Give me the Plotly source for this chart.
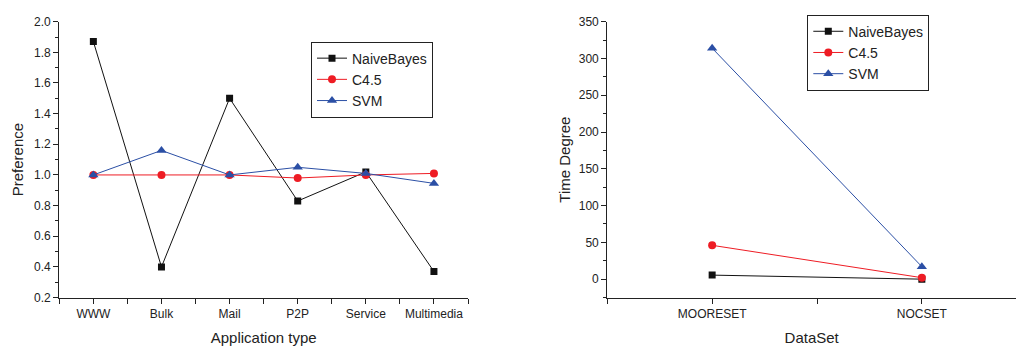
import plotly.graph_objects as go

# ---- data ----
app_types = ["WWW", "Bulk", "Mail", "P2P", "Service", "Multimedia"]
pref_nb = [1.87, 0.40, 1.50, 0.83, 1.02, 0.37]
pref_c45 = [1.00, 1.00, 1.00, 0.98, 1.00, 1.01]
pref_svm = [1.00, 1.16, 1.00, 1.05, 1.01, 0.945]

datasets = ["MOORESET", "NOCSET"]
time_nb = [5.5, 0.0]
time_c45 = [46.0, 2.0]
time_svm = [314.0, 17.0]

series_names = ["NaiveBayes", "C4.5", "SVM"]
colors = ["#111111", "#EE1C24", "#2B4FA5"]
symbols = ["square", "circle", "triangle-up"]
sizes = [7, 8, 9]

FONT = "Arial, Liberation Sans, sans-serif"

fig = go.Figure()

xi_left = list(range(len(app_types)))
xi_right = list(range(len(datasets)))

for name, ys, c, s, sz in zip(series_names, [pref_nb, pref_c45, pref_svm], colors, symbols, sizes):
    fig.add_trace(go.Scatter(x=xi_left, y=ys, mode="lines+markers", name=name,
                             line=dict(color=c, width=1), marker=dict(symbol=s, size=sz, color=c),
                             xaxis="x", yaxis="y", legend="legend", showlegend=True))
for name, ys, c, s, sz in zip(series_names, [time_nb, time_c45, time_svm], colors, symbols, sizes):
    fig.add_trace(go.Scatter(x=xi_right, y=ys, mode="lines+markers", name=name,
                             line=dict(color=c, width=1), marker=dict(symbol=s, size=sz, color=c),
                             xaxis="x2", yaxis="y2", legend="legend2", showlegend=True))

H = 349.0
W = 1016.0
ydom = [(H - 302.7) / H, (H - 15.3) / H]

axis_common = dict(showline=True, linecolor="#222222", linewidth=1.3, showgrid=False,
                   zeroline=False, ticks="outside", tickcolor="#222222", ticklen=5, tickwidth=1,
                   tickfont=dict(family=FONT, size=12, color="#222222"), mirror=False)

fig.update_layout(
    width=1016, height=349,
    margin=dict(l=0, r=0, t=0, b=0),
    paper_bgcolor="white", plot_bgcolor="white",
    font=dict(family=FONT, color="#222222"),
    xaxis=dict(domain=[59.3 / W, 468 / W], range=[-0.5, len(app_types) - 0.5],
               tickmode="array", tickvals=xi_left, ticktext=app_types,
               minor=dict(tickmode="array", tickvals=[i - 0.5 for i in range(len(app_types) + 1)],
                          ticks="outside", ticklen=5, tickcolor="#222222"),
               title=dict(text="Application type", font=dict(size=15), standoff=12),
               anchor="y", **axis_common),
    yaxis=dict(domain=ydom, range=[0.2, 2.0], dtick=0.2, tickformat=".1f",
               minor=dict(dtick=0.1, ticks="outside", ticklen=3, tickcolor="#222222"),
               title=dict(text="Preference", font=dict(size=15), standoff=6),
               anchor="x", **axis_common),
    xaxis2=dict(domain=[607.3 / W, 1.0], range=[-0.5, 1.449],
                tickmode="array", tickvals=xi_right, ticktext=datasets,
                minor=dict(tickmode="array", tickvals=[i - 0.5 for i in range(len(datasets) + 1)],
                           ticks="outside", ticklen=5, tickcolor="#222222"),
                title=dict(text="DataSet", font=dict(size=15), standoff=12),
                anchor="y2", **axis_common),
    yaxis2=dict(domain=ydom, range=[-25, 350], tickvals=[0, 50, 100, 150, 200, 250, 300, 350],
                minor=dict(dtick=25, tick0=0, ticks="outside", ticklen=3, tickcolor="#222222"),
                title=dict(text="Time Degree", font=dict(size=15), standoff=4),
                anchor="x2", **axis_common),
    legend=dict(x=311 / W, y=1 - 36 / H, xanchor="left", yanchor="top",
                bordercolor="#222222", borderwidth=1, bgcolor="white",
                font=dict(family=FONT, size=14, color="#222222"),
                tracegroupgap=0, itemwidth=30),
    legend2=dict(x=807.3 / W, y=1 - 8 / H, xanchor="left", yanchor="top",
                 bordercolor="#222222", borderwidth=1, bgcolor="white",
                 font=dict(family=FONT, size=14, color="#222222"),
                 tracegroupgap=0, itemwidth=30),
)

fig.write_html("out.html")
